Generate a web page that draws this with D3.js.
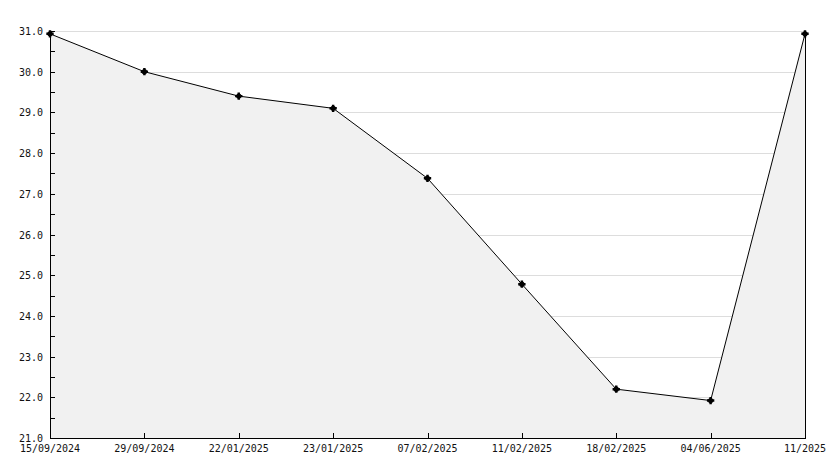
<!DOCTYPE html>
<html><head><meta charset="utf-8">
<script src="https://cdn.jsdelivr.net/npm/d3@7"></script>
<style>body{margin:0;background:#fff}svg{display:block}</style>
</head><body>
<script>
const categories = ["15/09/2024","29/09/2024","22/01/2025","23/01/2025","07/02/2025","11/02/2025","18/02/2025","04/06/2025","11/2025"];
const values = [30.93, 30.0, 29.4, 29.1, 27.38, 24.78, 22.2, 21.92, 30.93];
const yTicks = [21,22,23,24,25,26,27,28,29,30,31];
const yMinor = [21.5,22.5,23.5,24.5,25.5,26.5,27.5,28.5,29.5,30.5];

const W=834,H=468, L=50,R=805,T=31,B=438;
const svg=d3.select("body").append("svg").attr("width",W).attr("height",H);
const x=d3.scalePoint().domain(categories).range([L,R]);
const y=d3.scaleLinear().domain([21,31]).range([B,T]);
const font="'DejaVu Sans Mono', monospace";

// grid
svg.append("g").selectAll("line").data(yTicks.slice(1)).join("line")
 .attr("x1",L).attr("x2",R).attr("y1",d=>Math.round(y(d))+0.5).attr("y2",d=>Math.round(y(d))+0.5)
 .attr("stroke","#dddddd").attr("stroke-width",1);

// area
const area=d3.area().x((d,i)=>x(categories[i])).y0(y(21)).y1(d=>y(d));
svg.append("path").datum(values).attr("d",area).attr("fill","#f1f1f1");

const line=d3.line().x((d,i)=>x(categories[i])).y(d=>y(d));
svg.append("path").datum(values).attr("d",line).attr("fill","none").attr("stroke","#000").attr("stroke-width",1);

// right border
svg.append("line").attr("x1",R+0.5).attr("x2",R+0.5).attr("y1",y(values[values.length-1])).attr("y2",B).attr("stroke","#000");

// axes
const yAxis=svg.append("g");
yAxis.append("line").attr("x1",L+0.5).attr("x2",L+0.5).attr("y1",T).attr("y2",B+0.5).attr("stroke","#000");
yAxis.selectAll(".t").data(yTicks.concat(yMinor)).join("line")
 .attr("x1",L).attr("x2",L+5).attr("y1",d=>Math.round(y(d))+0.5).attr("y2",d=>Math.round(y(d))+0.5).attr("stroke","#000");
yAxis.selectAll("text").data(yTicks).join("text")
 .attr("x",43).attr("y",d=>y(d)+4).attr("text-anchor","end")
 .attr("font-family",font).attr("font-size",10).attr("fill","#111").text(d=>d.toFixed(1));

const xAxis=svg.append("g");
xAxis.append("line").attr("x1",L).attr("x2",R+1).attr("y1",B+0.5).attr("y2",B+0.5).attr("stroke","#000");
xAxis.selectAll(".t").data(categories).join("line")
 .attr("x1",d=>Math.round(x(d))+0.5).attr("x2",d=>Math.round(x(d))+0.5).attr("y1",B).attr("y2",B-5).attr("stroke","#000");
xAxis.selectAll("text").data(categories).join("text")
 .attr("x",d=>x(d)).attr("y",452).attr("text-anchor","middle")
 .attr("font-family",font).attr("font-size",10).attr("fill","#111").text(d=>d);

// markers
svg.append("g").selectAll("path").data(values).join("path")
 .attr("transform",(d,i)=>`translate(${x(categories[i])},${y(d)})`)
 .attr("d",d3.symbol().type(d3.symbolCircle).size(22)).attr("fill","#000");
svg.append("g").selectAll("path").data(values).join("path")
 .attr("transform",(d,i)=>`translate(${x(categories[i])},${y(d)})`)
 .attr("d",d3.symbol().type(d3.symbolCross).size(30)).attr("fill","#000");
</script>
</body></html>
